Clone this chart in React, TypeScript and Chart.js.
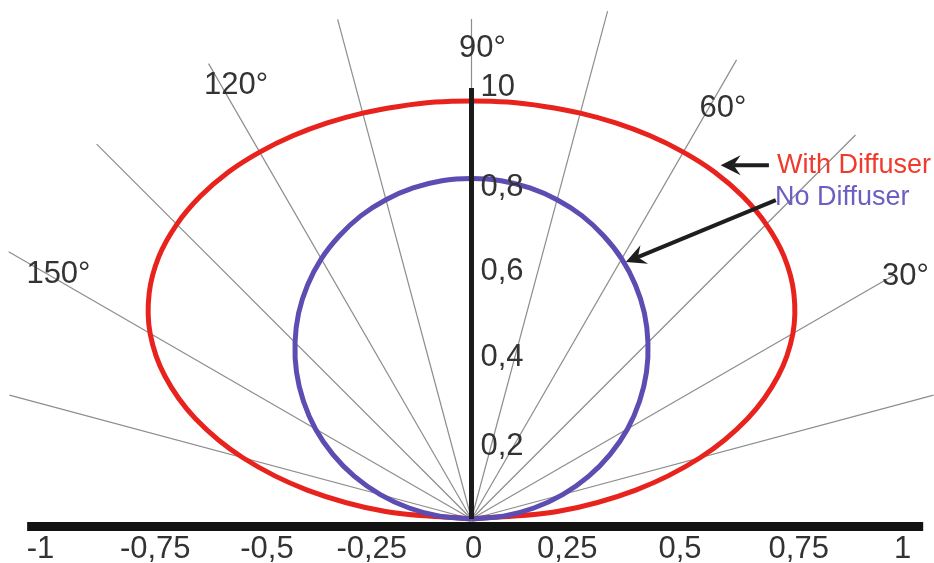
import { useEffect, useRef } from "react";
import { Chart, registerables } from "chart.js";

Chart.register(...registerables);

// ---- data ----
const curveAngles = [
  0, 5, 10, 15, 20, 25, 30, 35, 40, 45, 50, 55, 60, 65, 70, 75, 80, 85, 90,
  95, 100, 105, 110, 115, 120, 125, 130, 135, 140, 145, 150, 155, 160, 165, 170, 175, 180,
];
const withDiffuser = [
  0, 0.2, 0.387, 0.549, 0.682, 0.785, 0.861, 0.913, 0.947, 0.967, 0.978, 0.983, 0.983, 0.981, 0.978, 0.975, 0.972, 0.971, 0.97,
  0.971, 0.972, 0.975, 0.978, 0.981, 0.983, 0.983, 0.978, 0.967, 0.947, 0.913, 0.861, 0.785, 0.682, 0.549, 0.387, 0.2, 0,
];
const noDiffuser = [
  0, 0.074, 0.147, 0.219, 0.289, 0.355, 0.418, 0.476, 0.53, 0.579, 0.624, 0.663, 0.697, 0.725, 0.749, 0.767, 0.78, 0.788, 0.79,
  0.788, 0.78, 0.767, 0.749, 0.725, 0.697, 0.663, 0.624, 0.579, 0.53, 0.476, 0.418, 0.355, 0.289, 0.219, 0.147, 0.074, 0,
];
const seriesNames = ["With Diffuser", "No Diffuser"];

const rayAngles = [15, 30, 45, 60, 75, 90, 105, 120, 135, 150, 165];
const rayLengths = [1.11, 1.13, 1.26, 1.23, 1.22, 1.16, 1.2, 1.22, 1.23, 1.24, 1.11];

const angleLabelValues = [30, 60, 90, 120, 150];
const angleLabels = ["30°", "60°", "90°", "120°", "150°"];

const xTicks = [-1, -0.75, -0.5, -0.25, 0, 0.25, 0.5, 0.75, 1];
const xTickLabels = ["-1", "-0,75", "-0,5", "-0,25", "0", "0,25", "0,5", "0,75", "1"];
const yTicks = [0.2, 0.4, 0.6, 0.8, 1.0];
const yTickLabels = ["0,2", "0,4", "0,6", "0,8", "10"];

// ---- layout / style constants ----
const FONT = '"Liberation Sans", Arial, sans-serif';
const RED = "#e8231d";
const BLUE = "#5b4db1";
const LABEL_RADIUS = 1.12;
const ANGLE_LABEL_NUDGE: [number, number][] = [
  [16, -1],
  [10, 8],
  [11, 12],
  [6, -15],
  [5, -3],
];
const X_LABEL_NUDGE = [0, 7, 11, 8, 2, -12, -7, 4, 0];
const Y_LABEL_NUDGE = [14, 11, 11, 13, -1];

const polar = (deg: number, r: number) => {
  const t = (deg * Math.PI) / 180;
  return { x: r * Math.cos(t), y: r * Math.sin(t) };
};

function drawArrow(ctx: CanvasRenderingContext2D, x1: number, y1: number, x2: number, y2: number) {
  const ang = Math.atan2(y2 - y1, x2 - x1);
  const headLen = 20;
  const halfW = 10;
  const notch = 7;
  const cos = Math.cos(ang);
  const sin = Math.sin(ang);
  ctx.strokeStyle = "#1e1e1e";
  ctx.fillStyle = "#1e1e1e";
  ctx.lineWidth = 4;
  ctx.beginPath();
  ctx.moveTo(x1, y1);
  ctx.lineTo(x2 - cos * (headLen - notch), y2 - sin * (headLen - notch));
  ctx.stroke();
  const bx = x2 - cos * headLen;
  const by = y2 - sin * headLen;
  ctx.beginPath();
  ctx.moveTo(x2, y2);
  ctx.lineTo(bx - sin * halfW, by + cos * halfW);
  ctx.lineTo(x2 - cos * (headLen - notch), y2 - sin * (headLen - notch));
  ctx.lineTo(bx + sin * halfW, by - cos * halfW);
  ctx.closePath();
  ctx.fill();
}

const decorPlugin = {
  id: "decor",
  afterDatasetsDraw(chart: any) {
    const { ctx } = chart;
    const xs = chart.scales.x;
    const ys = chart.scales.y;
    const px = (v: number) => xs.getPixelForValue(v);
    const py = (v: number) => ys.getPixelForValue(v);
    ctx.save();

    // thick horizontal axis bar
    const barY = py(0) + 7.5;
    ctx.fillStyle = "#121212";
    ctx.fillRect(px(-1.031), barY - 4.5, px(1.048) - px(-1.031), 9);

    // x tick labels
    ctx.fillStyle = "#333333";
    ctx.font = `31px ${FONT}`;
    ctx.textAlign = "center";
    ctx.textBaseline = "middle";
    xTicks.forEach((v, i) => ctx.fillText(xTickLabels[i], px(v) + X_LABEL_NUDGE[i], barY + 23));

    // y tick labels (right of the vertical axis)
    ctx.textAlign = "left";
    yTicks.forEach((v, i) => ctx.fillText(yTickLabels[i], px(0) + 9, py(v) + Y_LABEL_NUDGE[i]));

    // angle labels
    ctx.textAlign = "center";
    angleLabelValues.forEach((a, i) => {
      const p = polar(a, LABEL_RADIUS);
      ctx.fillText(angleLabels[i], px(p.x) + ANGLE_LABEL_NUDGE[i][0], py(p.y) + ANGLE_LABEL_NUDGE[i][1]);
    });

    // series annotations
    ctx.font = `27px ${FONT}`;
    ctx.textAlign = "left";
    ctx.fillStyle = "#ef3a2c";
    ctx.fillText(seriesNames[0], px(0.709), py(0.821));
    ctx.fillStyle = "#6c5fc2";
    ctx.fillText(seriesNames[1], px(0.704), py(0.745));

    // arrows
    drawArrow(ctx, px(0.69), py(0.821), px(0.578), py(0.821));
    drawArrow(ctx, px(0.706), py(0.74), px(0.358), py(0.596));

    ctx.restore();
  },
};

export default function App() {
  const canvasRef = useRef<HTMLCanvasElement | null>(null);

  useEffect(() => {
    document.body.style.margin = "0";
    const canvas = canvasRef.current;
    if (!canvas) return;

    const rays = rayAngles.map((a, i) => ({
      data: [{ x: 0, y: 0 }, polar(a, rayLengths[i])],
      showLine: true,
      borderColor: "#8d8d8d",
      borderWidth: 1.2,
      pointRadius: 0,
      tension: 0,
      order: 5,
    }));

    const chart = new Chart(canvas, {
      type: "scatter",
      data: {
        datasets: [
          {
            label: "axis",
            data: [
              { x: 0, y: 0 },
              { x: 0, y: 1 },
            ],
            showLine: true,
            borderColor: "#1b1b1b",
            borderWidth: 5,
            pointRadius: 0,
            order: 0,
          },
          {
            label: seriesNames[1],
            data: curveAngles.map((a, i) => polar(a, noDiffuser[i])),
            showLine: true,
            borderColor: BLUE,
            borderWidth: 5,
            pointRadius: 0,
            tension: 0.3,
            order: 1,
          },
          {
            label: seriesNames[0],
            data: curveAngles.map((a, i) => polar(a, withDiffuser[i])),
            showLine: true,
            borderColor: RED,
            borderWidth: 5,
            pointRadius: 0,
            tension: 0.3,
            order: 2,
          },
          ...rays,
        ] as any,
      },
      options: {
        animation: false,
        responsive: false,
        events: [],
        layout: { padding: 0 },
        plugins: {
          legend: { display: false },
          tooltip: { enabled: false },
        },
        scales: {
          x: { type: "linear", min: -471.5 / 431, max: (934 - 471.5) / 431, display: false },
          y: { type: "linear", min: -(563 - 519) / 431, max: 519 / 431, display: false },
        },
      },
      plugins: [decorPlugin],
    });

    return () => chart.destroy();
  }, []);

  return (
    <div style={{ width: 934, height: 563, background: "#ffffff" }}>
      <canvas ref={canvasRef} width={934} height={563} style={{ display: "block" }} />
    </div>
  );
}
